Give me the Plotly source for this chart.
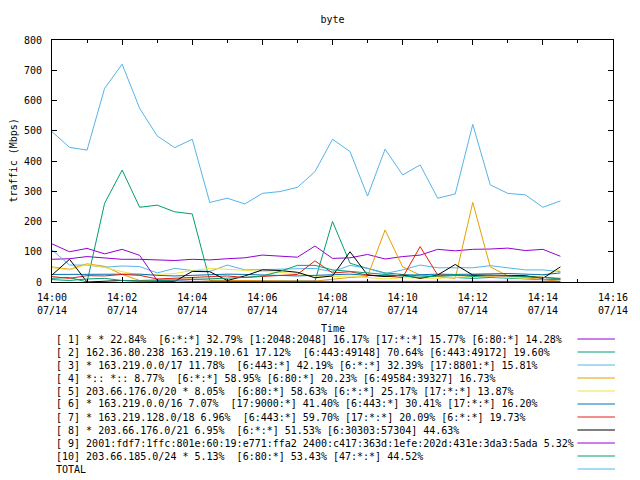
import plotly.graph_objects as go

# ---- data ----
times = ["14:00:00", "14:00:30", "14:01:00", "14:01:30", "14:02:00", "14:02:30",
         "14:03:00", "14:03:30", "14:04:00", "14:04:30", "14:05:00", "14:05:30",
         "14:06:00", "14:06:30", "14:07:00", "14:07:30", "14:08:00", "14:08:30",
         "14:09:00", "14:09:30", "14:10:00", "14:10:30", "14:11:00", "14:11:30",
         "14:12:00", "14:12:30", "14:13:00", "14:13:30", "14:14:00", "14:14:30"]
date = "2024-07-14"

s1 = [75, 77, 84, 80, 75, 75, 73, 71, 75, 73, 77, 80, 89, 86, 82, 119, 78, 80,
      91, 76, 84, 89, 108, 103, 108, 109, 112, 104, 108, 85]
s2 = [12, 15, 0, 260, 370, 247, 254, 232, 225, 5, 3, 3, 3, 3, 3, 3, 200, 62,
      45, 30, 25, 20, 18, 15, 12, 15, 12, 10, 8, 8]
s3 = [106, 56, 56, 49, 53, 51, 30, 45, 38, 35, 56, 40, 41, 42, 43, 45, 34, 55,
      45, 28, 40, 56, 47, 47, 47, 54, 47, 40, 40, 34]
s4 = [50, 42, 60, 52, 25, 5, 8, 8, 10, 6, 5, 5, 3, 3, 3, 3, 10, 15,
      18, 172, 50, 23, 18, 12, 263, 50, 20, 15, 8, 2]
s5 = [47, 40, 58, 48, 34, 23, 25, 28, 38, 45, 42, 38, 34, 30, 28, 20, 18, 20,
      15, 10, 14, 14, 12, 15, 20, 18, 15, 12, 20, 40]
s6 = [25, 25, 25, 24, 25, 26, 22, 20, 22, 24, 26, 25, 24, 22, 20, 22, 24, 26,
      22, 20, 22, 24, 26, 25, 25, 27, 28, 26, 24, 30]
s7 = [18, 12, 21, 20, 25, 22, 10, 12, 15, 18, 20, 15, 18, 20, 25, 70, 30, 34,
      23, 20, 15, 117, 23, 22, 22, 22, 20, 18, 15, 12]
s8 = [23, 75, 0, 3, 5, 3, 2, 2, 35, 34, 5, 20, 40, 38, 32, 14, 20, 100,
      23, 18, 23, 12, 23, 58, 23, 23, 23, 21, 12, 50]
s9 = [126, 100, 111, 93, 108, 88, 5, 3, 2, 2, 2, 2, 2, 2, 2, 2, 2, 2,
      2, 2, 2, 2, 2, 2, 2, 2, 2, 2, 2, 2]
s10 = [8, 5, 10, 12, 5, 3, 4, 6, 8, 10, 12, 15, 20, 35, 55, 55, 40, 35,
       30, 25, 20, 15, 20, 25, 18, 22, 20, 18, 15, 10]
total = [497, 445, 436, 640, 720, 574, 483, 444, 472, 263, 277, 258, 293, 299,
         313, 365, 472, 431, 284, 439, 354, 387, 277, 291, 521, 321, 293, 288,
         247, 268]

labels = [
    "[ 1] * * 22.84%  [6:*:*] 32.79% [1:2048:2048] 16.17% [17:*:*] 15.77% [6:80:*] 14.28%",
    "[ 2] 162.36.80.238 163.219.10.61 17.12%  [6:443:49148] 70.64% [6:443:49172] 19.60%",
    "[ 3] * 163.219.0.0/17 11.78%  [6:443:*] 42.19% [6:*:*] 32.39% [17:8801:*] 15.81%",
    "[ 4] *:: *:: 8.77%  [6:*:*] 58.95% [6:80:*] 20.23% [6:49584:39327] 16.73%",
    "[ 5] 203.66.176.0/20 * 8.05%  [6:80:*] 58.63% [6:*:*] 25.17% [17:*:*] 13.87%",
    "[ 6] * 163.219.0.0/16 7.07%  [17:9000:*] 41.40% [6:443:*] 30.41% [17:*:*] 16.20%",
    "[ 7] * 163.219.128.0/18 6.96%  [6:443:*] 59.70% [17:*:*] 20.09% [6:*:*] 19.73%",
    "[ 8] * 203.66.176.0/21 6.95%  [6:*:*] 51.53% [6:30303:57304] 44.63%",
    "[ 9] 2001:fdf7:1ffc:801e:60:19:e771:ffa2 2400:c417:363d:1efe:202d:431e:3da3:5ada 5.32%",
    "[10] 203.66.185.0/24 * 5.13%  [6:80:*] 53.43% [47:*:*] 44.52%",
    "TOTAL",
]
series = [s1, s2, s3, s4, s5, s6, s7, s8, s9, s10, total]
colors = ["#9400d3", "#009e73", "#56b4e9", "#e69f00", "#f0e442", "#0072b2",
          "#e51e10", "#000000", "#9400d3", "#009e73", "#56b4e9"]

x = [date + " " + t for t in times]
FONT = "DejaVu Sans Mono"

fig = go.Figure()
for i in range(len(series)):
    fig.add_trace(go.Scatter(x=x, y=series[i], mode="lines", name=labels[i],
                             line=dict(color=colors[i], width=1),
                             showlegend=False))

# page has an 8px body margin; figure is placed at (8, 8)
OFF = 8
W, H = 640 - OFF, 480 - OFF
PL, PR, PT, PB = 52, 620, 40, 282          # plot box in page pixels
L, R, T, B = PL - OFF, W - (PR - OFF), PT - OFF, H - (PB - OFF)
pw, ph = PR - PL, PB - PT


def px_x(p):
    return (p - PL) / pw


def px_y(p):
    return (PB - p) / ph


# legend as text + sample lines
for k, lab in enumerate(labels):
    yp = 339 + 13 * k
    fig.add_annotation(xref="paper", yref="paper", x=px_x(54), y=px_y(yp),
                       text=lab.replace(" ", "\u00a0"), showarrow=False,
                       xanchor="left", yanchor="middle",
                       font=dict(family=FONT, size=10, color="black"))
    fig.add_shape(type="line", xref="paper", yref="paper",
                  x0=px_x(584), x1=px_x(622), y0=px_y(yp), y1=px_y(yp),
                  line=dict(color=colors[k], width=1))

fig.add_annotation(xref="paper", yref="paper", x=px_x(13), y=px_y(160),
                   text="traffic (Mbps)", textangle=-90, showarrow=False,
                   xanchor="center", yanchor="middle",
                   font=dict(family=FONT, size=10, color="black"))
fig.add_annotation(xref="paper", yref="paper", x=px_x(336), y=px_y(328),
                   text="Time", showarrow=False, xanchor="center", yanchor="middle",
                   font=dict(family=FONT, size=10, color="black"))

fig.update_layout(
    width=W, height=H, autosize=False,
    margin=dict(l=L, r=R, t=T, b=B, pad=0),
    paper_bgcolor="white", plot_bgcolor="white",
    font=dict(family=FONT, size=10, color="black"),
    title=dict(text="byte", x=px_x(336), xref="paper",
               y=1 - (19 - OFF) / H, yref="container",
               yanchor="middle", xanchor="center",
               font=dict(family=FONT, size=10, color="black")),
)
fig.update_xaxes(
    type="date", range=[date + " 14:00:00", date + " 14:16:00"],
    dtick=120000, tick0=date + " 14:00:00", tickformat="%H:%M<br>%m/%d",
    ticks="inside", ticklen=5, tickcolor="black", tickwidth=1,
    minor=dict(dtick=60000, ticks="inside", ticklen=3, tickcolor="black", showgrid=False),
    showline=True, linecolor="black", linewidth=1, mirror="ticks",
    showgrid=False, zeroline=False, ticklabelstandoff=6,
    tickfont=dict(family=FONT, size=10, color="black"),
)
fig.update_yaxes(
    range=[0, 800], dtick=100, tick0=0,
    ticks="inside", ticklen=5, tickcolor="black", tickwidth=1,
    showline=True, linecolor="black", linewidth=1, mirror="ticks",
    showgrid=False, zeroline=False, ticklabelstandoff=7,
    tickfont=dict(family=FONT, size=10, color="black"),
)

fig.write_html("out.html")
